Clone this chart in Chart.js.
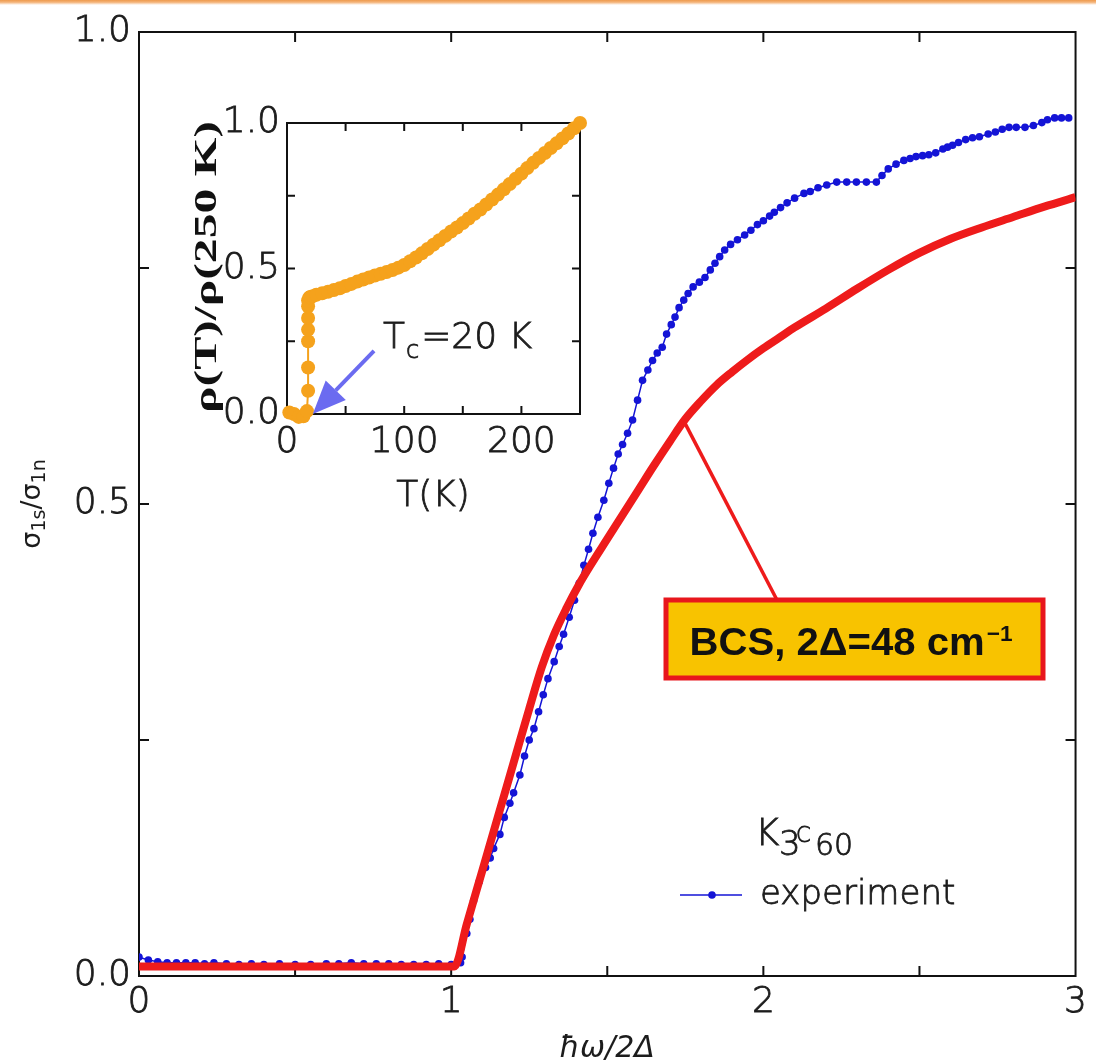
<!DOCTYPE html>
<html>
<head>
<meta charset="utf-8">
<script src="https://cdn.jsdelivr.net/npm/chart.js@4.4.0/dist/chart.umd.min.js"></script>
<style>
  html, body { margin: 0; padding: 0; background: #fff; }
  #wrap { position: relative; width: 1096px; height: 1060px; overflow: hidden; background: #fff; }
  #topline { position: absolute; left: 0; top: 0; width: 1096px; height: 5px;
             background: linear-gradient(#ee9a4c 0%, #f4b47a 45%, rgba(255,255,255,0) 100%); }
  #main { position: absolute; left: 0; top: 0; }
  #inset { position: absolute; left: 180px; top: 95px; }
</style>
</head>
<body>
<div id="wrap">
  <canvas id="main" width="1096" height="1060"></canvas>
  <canvas id="inset" width="420" height="440"></canvas>
  <div id="topline"></div>
</div>
<script>
// ---- Optical conductivity of K3C60: measured ratio sigma_1s / sigma_1n ----
const expX = [0.00, 0.03, 0.06, 0.09, 0.12, 0.15, 0.18, 0.21, 0.24, 0.28, 0.32, 0.36, 0.40, 0.45, 0.50,
  0.55, 0.60, 0.64, 0.68, 0.72, 0.76, 0.80, 0.84, 0.88, 0.92, 0.96, 1.00, 1.03,
  1.035, 1.05, 1.06, 1.072, 1.09, 1.11, 1.125, 1.136, 1.156, 1.17, 1.188, 1.20, 1.22, 1.235, 1.25,
  1.265, 1.28, 1.295, 1.31, 1.33, 1.346, 1.36, 1.378, 1.395, 1.41, 1.425, 1.44, 1.454, 1.47, 1.489,
  1.505, 1.52, 1.535, 1.549, 1.565, 1.581, 1.597, 1.613, 1.63, 1.645, 1.66, 1.676, 1.69, 1.705,
  1.717, 1.73, 1.745, 1.759, 1.775, 1.795, 1.813, 1.83, 1.845, 1.86, 1.876, 1.895, 1.917, 1.94,
  1.96, 1.981, 2.00, 2.02, 2.035, 2.055, 2.076, 2.10, 2.13, 2.15, 2.175, 2.203, 2.235, 2.267,
  2.298, 2.33, 2.362, 2.38, 2.40, 2.425, 2.45, 2.47, 2.489, 2.51, 2.53, 2.552, 2.575, 2.59, 2.606,
  2.625, 2.648, 2.67, 2.692, 2.72, 2.743, 2.765, 2.787, 2.81, 2.838, 2.865, 2.892, 2.91, 2.933,
  2.955, 2.978];
const expY = [0.020, 0.017, 0.015, 0.014, 0.014, 0.014, 0.014, 0.013, 0.014, 0.013, 0.012, 0.013, 0.012, 0.013, 0.012,
  0.012, 0.013, 0.013, 0.014, 0.013, 0.013, 0.013, 0.012, 0.012, 0.012, 0.013, 0.012, 0.014,
  0.020, 0.045, 0.060, 0.080, 0.100, 0.115, 0.125, 0.135, 0.150, 0.168, 0.183, 0.194, 0.213, 0.233, 0.250,
  0.262, 0.280, 0.298, 0.315, 0.333, 0.349, 0.362, 0.380, 0.398, 0.416, 0.435, 0.452, 0.469, 0.486, 0.504,
  0.522, 0.538, 0.553, 0.563, 0.575, 0.589, 0.610, 0.631, 0.642, 0.652, 0.660, 0.666, 0.680, 0.690,
  0.698, 0.708, 0.716, 0.723, 0.730, 0.735, 0.740, 0.748, 0.755, 0.762, 0.769, 0.775, 0.780, 0.785,
  0.790, 0.796, 0.800, 0.805, 0.809, 0.814, 0.819, 0.824, 0.829, 0.831, 0.835, 0.838, 0.841, 0.841,
  0.841, 0.841, 0.841, 0.848, 0.855, 0.860, 0.864, 0.866, 0.868, 0.869, 0.870, 0.872, 0.876, 0.878, 0.880,
  0.883, 0.886, 0.888, 0.889, 0.892, 0.894, 0.897, 0.899, 0.899, 0.899, 0.901, 0.904, 0.907, 0.909,
  0.909, 0.909];

// BCS (Mattis-Bardeen) curve for 2Δ = 48 cm^-1
const bcsX = [0.00, 1.01, 1.05, 1.10, 1.15, 1.20, 1.25, 1.29, 1.33, 1.37, 1.41, 1.45, 1.50, 1.55, 1.60,
  1.65, 1.70, 1.75, 1.80, 1.85, 1.90, 1.95, 2.00, 2.05, 2.10, 2.20, 2.30, 2.40, 2.50, 2.60, 2.70, 2.80, 2.90, 3.00];
const bcsY = [0.010, 0.010, 0.055, 0.112, 0.169, 0.226, 0.283, 0.327, 0.362, 0.390, 0.415, 0.437, 0.463, 0.489, 0.515,
  0.541, 0.566, 0.590, 0.609, 0.626, 0.640, 0.653, 0.665, 0.676, 0.687, 0.707, 0.728, 0.748, 0.766, 0.781, 0.793,
  0.804, 0.815, 0.825];

// Inset: normalised resistivity rho(T)/rho(250 K)
const rhoT = [2, 6, 10, 14, 17, 18, 18, 18, 18, 18, 18, 18, 19, 20, 22, 25, 30, 35, 40, 45, 50, 55, 60, 65, 70,
  75, 80, 85, 90, 95, 100, 105, 110, 115, 120, 125, 130, 135, 140, 145, 150, 155, 160, 165, 170, 175, 180,
  185, 190, 195, 200, 205, 210, 215, 220, 225, 230, 235, 240, 245, 250];
const rhoR = [0.005, 0.000, -0.010, -0.008, 0.010, 0.080, 0.160, 0.250, 0.290, 0.330, 0.370, 0.390, 0.400, 0.402,
  0.405, 0.410, 0.415, 0.420, 0.426, 0.432, 0.440, 0.447, 0.455, 0.462, 0.469, 0.476, 0.482, 0.488, 0.495, 0.503,
  0.512, 0.525, 0.538, 0.552, 0.567, 0.582, 0.597, 0.612, 0.627, 0.641, 0.656, 0.672, 0.688, 0.703, 0.720, 0.737,
  0.754, 0.772, 0.790, 0.808, 0.826, 0.845, 0.863, 0.880, 0.897, 0.914, 0.930, 0.947, 0.964, 0.982, 1.000];

// Tick labels
const mainXLabels = [0, 1, 2, 3];
const mainYLabels = [0, 0.5, 1.0];
const insetXLabels = [0, 100, 200];
const insetYLabels = [0, 0.5, 1.0];

// Point on the BCS curve the label box points at, and T_c marker in the inset
const bcsLabelAt = { x: 1.745, y: 0.588 };
const tcArrowAt = { x: 22, y: 0.0 };

const TEXT = '#1c1c1c';
const AXIS = '#111';
const RED = '#ee1b1b';
const BLUE = '#1414d6';
const ORANGE = '#f5a21c';
const THIN = '"DejaVu Sans", "Liberation Sans", sans-serif';
const SERIF = '"Liberation Serif", "DejaVu Serif", serif';
const BOLD = '"Liberation Sans", Arial, sans-serif';
const STROKE = 0.8;   // slight outline to give the light face a bit more body

Chart.defaults.font.family = THIN;
Chart.defaults.color = TEXT;

const pts = (xs, ys) => xs.map((x, i) => ({ x, y: ys[i] }));
const has = (arr, v) => arr.some(a => Math.abs(a - v) < 1e-9);

function drawFrame(chart, len) {
  const { ctx, chartArea: a, scales: { x, y } } = chart;
  ctx.save();
  ctx.strokeStyle = AXIS;
  ctx.lineWidth = 2;
  ctx.strokeRect(a.left, a.top, a.right - a.left, a.bottom - a.top);
  ctx.beginPath();
  x.ticks.forEach(t => {
    const p = x.getPixelForValue(t.value);
    if (p <= a.left + 1 || p >= a.right - 1) return;
    ctx.moveTo(p, a.bottom); ctx.lineTo(p, a.bottom - len);
    ctx.moveTo(p, a.top); ctx.lineTo(p, a.top + len);
  });
  y.ticks.forEach(t => {
    const p = y.getPixelForValue(t.value);
    if (p <= a.top + 1 || p >= a.bottom - 1) return;
    ctx.moveTo(a.left, p); ctx.lineTo(a.left + len, p);
    ctx.moveTo(a.right, p); ctx.lineTo(a.right - len, p);
  });
  ctx.stroke();
  ctx.restore();
}

// text runs with individual font / baseline shift
function runsWidth(ctx, runs) {
  let w = 0;
  runs.forEach(r => { ctx.font = r.font; w += ctx.measureText(r.t).width + (r.dx || 0); });
  return w;
}
function drawRuns(ctx, x, y, runs, stroke) {
  let cx = x;
  runs.forEach(r => {
    ctx.font = r.font;
    ctx.fillText(r.t, cx, y + (r.dy || 0));
    if (stroke) { ctx.lineWidth = stroke; ctx.strokeStyle = ctx.fillStyle; ctx.strokeText(r.t, cx, y + (r.dy || 0)); }
    cx += ctx.measureText(r.t).width + (r.dx || 0);
  });
  return cx;
}
function text(ctx, t, x, y, stroke) {
  ctx.fillText(t, x, y);
  if (stroke) { ctx.lineWidth = stroke; ctx.strokeStyle = ctx.fillStyle; ctx.strokeText(t, x, y); }
}
const thin = (s) => `200 ${s}px ${THIN}`;
const book = (s) => `400 ${s}px ${THIN}`;

const tickFont = { family: THIN, size: 36, weight: '200', lineHeight: 1 };

const mainOverlay = {
  id: 'mainOverlay',
  beforeDatasetsDraw(chart) { drawFrame(chart, 10); },
  afterDatasetsDraw(chart) {
    const { ctx, scales: { x, y } } = chart;
    ctx.save();
    ctx.fillStyle = TEXT;
    ctx.textBaseline = 'alphabetic';
    ctx.textAlign = 'left';

    // leader from the BCS curve to its label
    const ax = x.getPixelForValue(bcsLabelAt.x), ay = y.getPixelForValue(bcsLabelAt.y);
    ctx.strokeStyle = RED;
    ctx.lineWidth = 3.5;
    ctx.beginPath();
    ctx.moveTo(ax, ay);
    ctx.lineTo(777, 600);
    ctx.stroke();

    // label box
    ctx.fillStyle = '#f8c300';
    ctx.fillRect(666, 600, 377, 78);
    ctx.strokeStyle = '#e8161c';
    ctx.lineWidth = 5;
    ctx.strokeRect(666, 600, 377, 78);

    const boxRuns = [
      { t: 'BCS, 2\u0394=48 cm', font: `bold 39px ${BOLD}`, dx: 2 },
      { t: '\u22121', font: `bold 22px ${BOLD}`, dy: -14 }
    ];
    const bw = runsWidth(ctx, boxRuns);
    const sx = 323 / bw;
    ctx.save();
    ctx.translate(851 - 323 / 2, 655);
    ctx.scale(sx, 1);
    ctx.fillStyle = '#111';
    drawRuns(ctx, 0, 0, boxRuns);
    ctx.restore();

    // legend: K3C60 / experiment
    ctx.fillStyle = TEXT;
    ctx.font = thin(37); text(ctx, 'K', 755, 845, STROKE);
    ctx.font = thin(34); text(ctx, '3', 779, 855, STROKE);
    ctx.font = thin(21); text(ctx, 'C', 796, 842, STROKE);
    ctx.font = thin(30); text(ctx, '60', 815, 855, STROKE);

    const ds = chart.data.datasets[1];
    ctx.strokeStyle = ds.borderColor;
    ctx.lineWidth = ds.borderWidth;
    ctx.beginPath(); ctx.moveTo(680, 895); ctx.lineTo(742, 895); ctx.stroke();
    ctx.fillStyle = ds.pointBackgroundColor;
    ctx.beginPath(); ctx.arc(712, 895, ds.pointRadius, 0, Math.PI * 2); ctx.fill();
    ctx.fillStyle = TEXT;
    ctx.font = thin(34);
    text(ctx, ds.label, 760, 904, STROKE);

    // x axis title
    ctx.font = `italic 400 30px ${THIN}`;
    ctx.textAlign = 'center';
    text(ctx, '\u0127\u03c9/2\u0394', 607, 1057, 0);

    // y axis title: sigma_1s / sigma_1n
    ctx.textAlign = 'left';
    const yRuns = [
      { t: '\u03c3', font: book(27) },
      { t: '1s', font: book(19), dy: 5 },
      { t: '/', font: book(27) },
      { t: '\u03c3', font: book(27) },
      { t: '1n', font: book(19), dy: 5 }
    ];
    const yw = runsWidth(ctx, yRuns);
    ctx.translate(40, 504);
    ctx.rotate(-Math.PI / 2);
    drawRuns(ctx, -yw / 2, 0, yRuns);
    ctx.restore();
  }
};

new Chart(document.getElementById('main'), {
  type: 'scatter',
  data: {
    datasets: [
      {
        label: 'BCS, 2\u0394=48 cm\u207b\u00b9',
        data: pts(bcsX, bcsY),
        showLine: true,
        borderColor: RED,
        borderWidth: 8,
        pointRadius: 0,
        cubicInterpolationMode: 'monotone',
        borderJoinStyle: 'round',
        order: 0
      },
      {
        label: 'experiment',
        data: pts(expX, expY),
        showLine: true,
        borderColor: BLUE,
        borderWidth: 1.5,
        pointRadius: 3.8,
        pointBackgroundColor: BLUE,
        pointBorderWidth: 0,
        order: 1
      }
    ]
  },
  options: {
    responsive: false,
    animation: false,
    devicePixelRatio: 1,
    events: [],
    layout: { padding: { top: 32, right: 12, left: 0, bottom: 0 } },
    plugins: { legend: { display: false }, tooltip: { enabled: false } },
    scales: {
      x: {
        type: 'linear', min: 0, max: 3,
        grid: { display: false, drawTicks: false },
        border: { display: false },
        ticks: {
          stepSize: 0.5, autoSkip: false, maxRotation: 0, padding: 9, color: TEXT,
          textStrokeColor: TEXT, textStrokeWidth: STROKE,
          font: tickFont,
          callback: v => has(mainXLabels, v) ? String(v) : ''
        },
        afterFit: s => { s.height = 84; }
      },
      y: {
        type: 'linear', min: 0, max: 1,
        grid: { display: false, drawTicks: false },
        border: { display: false },
        ticks: {
          stepSize: 0.25, autoSkip: false, padding: 8, color: TEXT,
          textStrokeColor: TEXT, textStrokeWidth: STROKE,
          font: tickFont,
          callback: v => has(mainYLabels, v) ? v.toFixed(1) : ''
        },
        afterFit: s => { s.width = 139; }
      }
    }
  },
  plugins: [mainOverlay]
});

// ---- inset ----
const insetOverlay = {
  id: 'insetOverlay',
  beforeDatasetsDraw(chart) { drawFrame(chart, 8); },
  afterDatasetsDraw(chart) {
    const { ctx, scales: { x, y } } = chart;
    ctx.save();

    // arrow marking T_c
    const tx = x.getPixelForValue(tcArrowAt.x), ty = y.getPixelForValue(tcArrowAt.y);
    const ux = -0.696, uy = 0.718;           // direction of the arrow
    const sx0 = tx - ux * 88, sy0 = ty - uy * 88;
    const bx = tx - ux * 33, by = ty - uy * 33;
    ctx.strokeStyle = '#6b6bf0';
    ctx.fillStyle = '#6b6bf0';
    ctx.lineWidth = 4;
    ctx.beginPath(); ctx.moveTo(sx0, sy0); ctx.lineTo(bx, by); ctx.stroke();
    ctx.beginPath();
    ctx.moveTo(tx, ty);
    ctx.lineTo(bx + uy * 14, by - ux * 14);
    ctx.lineTo(bx - uy * 14, by + ux * 14);
    ctx.closePath(); ctx.fill();

    // T_c = 20 K
    ctx.fillStyle = TEXT;
    ctx.textAlign = 'left';
    ctx.textBaseline = 'alphabetic';
    drawRuns(ctx, 203, 253, [
      { t: 'T', font: thin(36), dx: 1 },
      { t: 'c', font: thin(24), dy: 10, dx: 2 },
      { t: '=20 K', font: thin(36) }
    ], STROKE);

    // x title
    ctx.font = thin(36);
    ctx.textAlign = 'center';
    ctx.textBaseline = 'middle';
    text(ctx, 'T(K)', 253, 402, STROKE);

    // y title
    ctx.font = `bold 32px ${SERIF}`;
    const label = '\u03c1(T)/\u03c1(250 K)';
    const w = ctx.measureText(label).width;
    ctx.translate(28, 172);
    ctx.rotate(-Math.PI / 2);
    ctx.scale(292 / w, 1);
    ctx.fillStyle = '#111';
    ctx.fillText(label, 0, 0);
    ctx.restore();
  }
};

new Chart(document.getElementById('inset'), {
  type: 'scatter',
  data: {
    datasets: [{
      label: 'rho',
      data: pts(rhoT, rhoR),
      showLine: true,
      borderColor: ORANGE,
      borderWidth: 2,
      pointRadius: 7,
      pointBackgroundColor: ORANGE,
      pointBorderWidth: 0,
      clip: false
    }]
  },
  options: {
    responsive: false,
    animation: false,
    devicePixelRatio: 1,
    events: [],
    layout: { padding: { top: 28, right: 20, left: 0, bottom: 0 } },
    plugins: { legend: { display: false }, tooltip: { enabled: false } },
    scales: {
      x: {
        type: 'linear', min: 0, max: 250,
        grid: { display: false, drawTicks: false },
        border: { display: false },
        ticks: {
          stepSize: 50, autoSkip: false, maxRotation: 0, padding: 11, color: TEXT,
          textStrokeColor: TEXT, textStrokeWidth: STROKE,
          font: tickFont,
          callback: v => has(insetXLabels, v) ? String(v) : ''
        },
        afterFit: s => { s.height = 121; }
      },
      y: {
        type: 'linear', min: 0, max: 1,
        grid: { display: false, drawTicks: false },
        border: { display: false },
        ticks: {
          stepSize: 0.25, autoSkip: false, padding: 7, color: TEXT,
          textStrokeColor: TEXT, textStrokeWidth: STROKE,
          font: tickFont,
          callback: v => has(insetYLabels, v) ? v.toFixed(1) : ''
        },
        afterFit: s => { s.width = 107; }
      }
    }
  },
  plugins: [insetOverlay]
});
</script>
</body>
</html>
